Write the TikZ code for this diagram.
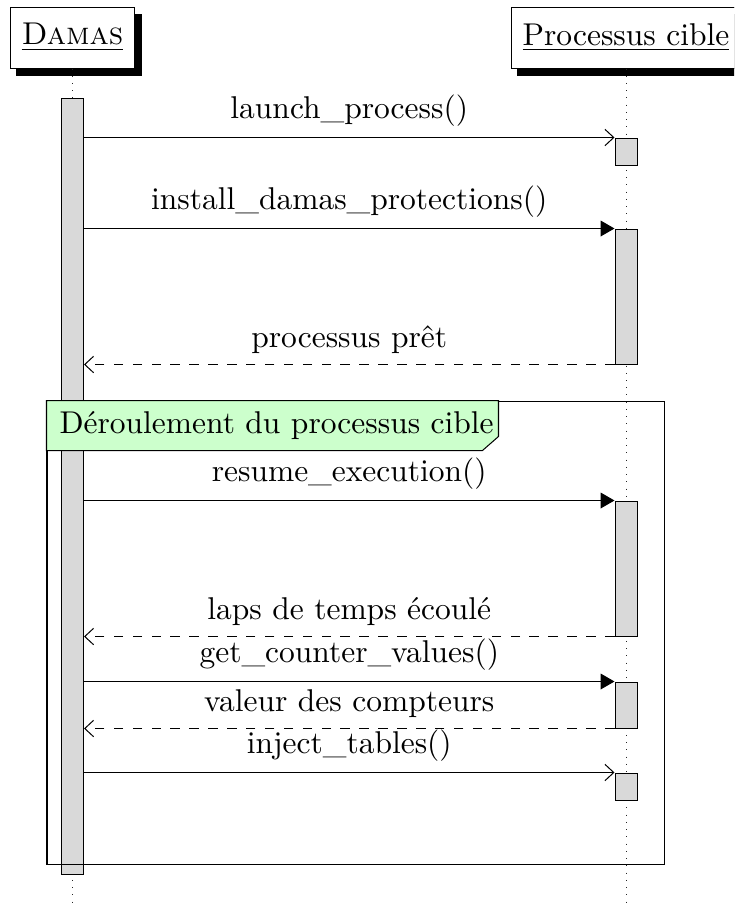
\documentclass[tikz,border=0pt]{standalone}
\usetikzlibrary{arrows.meta}
\def\pxu{0.3175pt}
\begin{document}
\begin{tikzpicture}[x=0.3175pt,y=-0.3175pt, line width=0.32pt,
  inst/.style={draw, fill=white, minimum height=61*\pxu, inner sep=3.6pt},
  lifeline/.style={dotted, line width=0.3pt, black!85},
  actbar/.style={draw, fill=gray!30, minimum width=22*\pxu, inner sep=0pt},
  call/.style={-{Triangle[length=4.4pt,width=5pt]}},
  async/.style={-{Straight Barb[length=2.8pt,width=5.2pt]}},
  reply/.style={dashed, -{Straight Barb[length=2.8pt,width=5.2pt]}},
  msg/.style={midway, above, inner sep=3.3pt},
  fragfill/.style={draw, fill=green!20}
]
\clip (0,0) rectangle (734,905);
% headers
\node[inst] (damas) at (72.5,37.5) {\underline{\textsc{Damas}}};
\node[inst] (proc) at (626,37.5) {\underline{Processus cible}};
\fill ([shift={(6.5,7)}]damas.north west) rectangle ([shift={(6.5,7)}]damas.south east);
\fill ([shift={(6.5,7)}]proc.north west) rectangle ([shift={(6.5,7)}]proc.south east);
\node[inst] at (damas) {\underline{\textsc{Damas}}};
\node[inst] at (proc) {\underline{Processus cible}};
% lifelines
\coordinate (dend) at (72.5,905);
\coordinate (pend) at (626,905);
\draw[lifeline] (damas.south) -- (dend);
\draw[lifeline] (proc.south) -- (pend);
% activation bars
\node[actbar, minimum height=776*\pxu] (dbar) at (72.5,486) {};
\node[actbar, minimum height=27*\pxu] (pb1) at (626,151.5) {};
\node[actbar, minimum height=135*\pxu] (pb2) at (626,296.5) {};
\node[actbar, minimum height=135*\pxu] (pb3) at (626,568.5) {};
\node[actbar, minimum height=46*\pxu] (pb4) at (626,705) {};
\node[actbar, minimum height=27*\pxu] (pb5) at (626,786.5) {};
% messages
\draw[async] (dbar.east |- pb1.north west) -- (pb1.north west) node[msg] {launch\_process()};
\draw[call] (dbar.east |- pb2.north west) -- (pb2.north west) node[msg] {install\_damas\_protections()};
\draw[reply] (pb2.south west) -- (dbar.east |- pb2.south west) node[msg] {processus prêt};
% fragment
\node[draw, minimum width=617*\pxu, minimum height=463*\pxu, inner sep=0pt] (frame) at (355.5,632.5) {};
\path[fragfill] (frame.north west) -- ++(452,0) -- ++(0,36) -- ++(-16,14) -- ++(-436,0) -- cycle;
\node[anchor=base west, inner sep=0pt] (fraglabel) at (59,433) {Déroulement du processus cible};
\draw[call] (dbar.east |- pb3.north west) -- (pb3.north west) node[msg] {resume\_execution()};
\draw[reply] (pb3.south west) -- (dbar.east |- pb3.south west) node[msg] {laps de temps écoulé};
\draw[call] (dbar.east |- pb4.north west) -- (pb4.north west) node[msg] {get\_counter\_values()};
\draw[reply] (pb4.south west) -- (dbar.east |- pb4.south west) node[msg] {valeur des compteurs};
\draw[async] (dbar.east |- pb5.north west) -- (pb5.north west) node[msg] {inject\_tables()};
\end{tikzpicture}
\end{document}
